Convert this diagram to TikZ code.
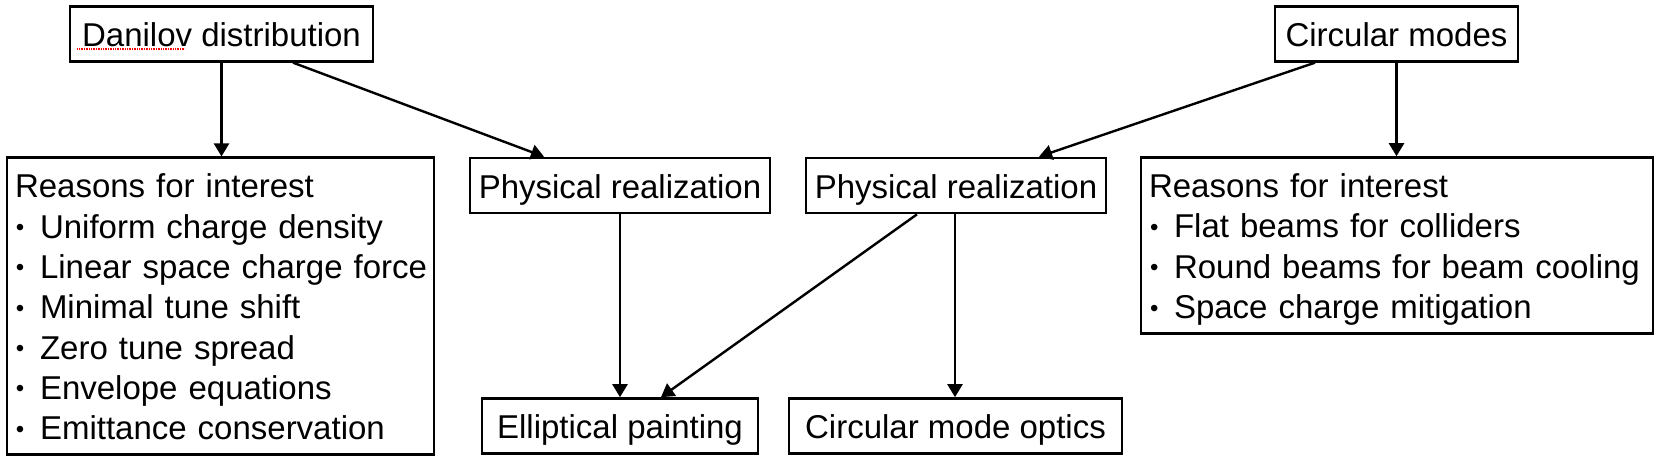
\documentclass[tikz,border=0pt]{standalone}
\usepackage{fontspec}
\setmainfont{Liberation Sans}
\usetikzlibrary{arrows.meta}

\newcommand{\lnstrut}{\rule[-6.5pt]{0pt}{38.5pt}}
\newcommand{\bul}[1]{\lnstrut\makebox[25pt][l]{\hspace{1pt}\raisebox{2.5pt}{\fontsize{24}{24}\selectfont •}}\mbox{#1}}

\tikzset{
	blk/.style={rectangle, draw=black, line width=2.8pt, inner xsep=8pt, inner ysep=8pt, font=\fontsize{33}{40.3}\selectfont},
	lst/.style={blk, align=left},
	link/.style={-{Triangle[length=13pt, width=15pt]}, line width=2.4pt}
}

\begin{document}
\begin{tikzpicture}[x=1pt, y=-1pt]

\useasboundingbox (0, 0) rectangle (1662, 462);

\node (dan) at (221.5, 34) [blk, minimum width=303pt] {\lnstrut Danilov distribution};
\node (circ) at (1396.5, 34) [blk, minimum width=243pt] {\lnstrut Circular modes};

\node (dan-re) at (220.5, 306) [lst, text width=411pt] {\lnstrut Reasons for interest\\
	\bul{Uniform charge density}\\
	\bul{Linear space charge force}\\
	\bul{Minimal tune shift}\\
	\bul{Zero tune spread}\\
	\bul{Envelope equations}\\
	\bul{Emittance conservation}};
\node (dan-ph) at (620, 185.5) [blk, minimum width=300pt] {\lnstrut Physical realization};
\node (circ-ph) at (956, 185.5) [blk, minimum width=300pt] {\lnstrut Physical realization};
\node (circ-re) at (1397, 245.5) [lst, text width=496pt] {\lnstrut Reasons for interest\\
	\bul{Flat beams for colliders}\\
	\bul{Round beams for beam cooling}\\
	\bul{Space charge mitigation}};

\node (paint) at (620, 426) [blk, minimum width=276pt] {\lnstrut Elliptical painting};
\node (optics) at (955.5, 426) [blk, minimum width=333pt] {\lnstrut Circular mode optics};

% spell check mark
\draw[red, densely dotted, line width=1.4pt] ([shift={(8, 15)}]dan.west) -- ++(108, 0);

\draw[link] (dan.south) -- (dan.south |- dan-re.north);
\draw[link] ([xshift=71.5pt]dan.south) -- ([xshift=-76pt]dan-ph.north);
\draw[link] ([xshift=-81.5pt]circ.south) -- ([xshift=83pt]circ-ph.north);
\draw[link] (circ.south) -- (circ.south |- circ-re.north);
\draw[link] (dan-ph.south) -- (paint.north);
\draw[link] ([xshift=-39pt]circ-ph.south) -- ([xshift=41pt]paint.north);
\draw[link] ([xshift=-1pt]circ-ph.south) -- ([xshift=-1pt]circ-ph.south |- optics.north);

\end{tikzpicture}
\end{document}
